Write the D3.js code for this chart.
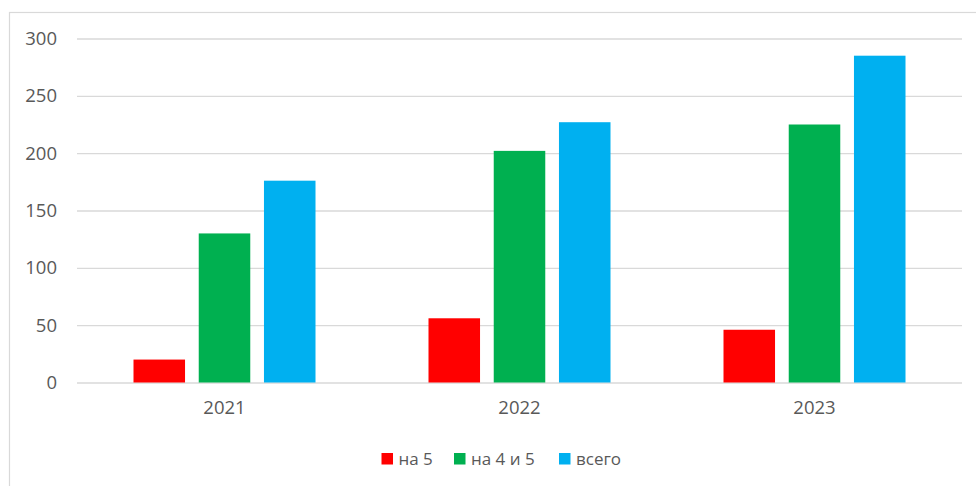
<!DOCTYPE html>
<html lang="ru">
	<head>
		<meta charset="utf-8">
		<title>Bar chart</title>
		<script type="text/javascript" src="https://cdn.jsdelivr.net/npm/d3@7"></script>
		<style type="text/css">
			body { margin: 0; background: #fff; }
			text { font-family: "Open Sans", sans-serif; fill: #595959; }
		</style>
	</head>
	<body>
		<script type="text/javascript">

			//Width and height
			var w = 976;
			var h = 486;

			//Data
			var years = ["2021", "2022", "2023"];
			var seriesNames = ["на 5", "на 4 и 5", "всего"];
			var na5 = [20, 56, 46];
			var na4i5 = [130, 202, 225];
			var vsego = [176, 227, 285];
			var yTicks = [0, 50, 100, 150, 200, 250, 300];

			var seriesValues = [na5, na4i5, vsego];
			var colors = d3.scaleOrdinal().domain(seriesNames).range(["#ff0000", "#00b050", "#00b0f0"]);

			var plot = { left: 77, right: 962, top: 38.5, bottom: 382.5 };

			var x = d3.scaleBand()
				.domain(years)
				.range([plot.left, plot.right]);

			//inner scale for the three bars in a group
			var xInner = d3.scaleBand()
				.domain(seriesNames)
				.range([0, 182])
				.paddingInner(0.21);

			var y = d3.scaleLinear()
				.domain([0, 300])
				.range([plot.bottom, plot.top]);

			var svg = d3.select("body")
				.append("svg")
				.attr("width", w)
				.attr("height", h);

			//outer chart border (cut off at right and bottom)
			svg.append("rect")
				.attr("x", 9.5)
				.attr("y", 12.5)
				.attr("width", 1000)
				.attr("height", 500)
				.style("fill", "none")
				.style("stroke", "#d9d9d9")
				.style("stroke-width", 1.2);

			//gridlines + y labels
			var yAxis = d3.axisLeft(y)
				.tickValues(yTicks)
				.tickSize(-(plot.right - plot.left))
				.tickPadding(20);

			var gy = svg.append("g")
				.attr("transform", "translate(" + plot.left + ",0)")
				.call(yAxis);
			gy.select(".domain").remove();
			gy.selectAll("line").style("stroke", "#d9d9d9").style("stroke-width", 1.3);
			gy.selectAll("text").style("font-size", "18.5px").attr("fill", "#595959");

			//bars
			var groups = svg.selectAll("g.year")
				.data(years)
				.enter()
				.append("g")
				.attr("class", "year")
				.attr("transform", function(d) {
					return "translate(" + (x(d) + x.bandwidth() / 2 - 91) + ",0)";
				});

			groups.selectAll("rect")
				.data(function(d, i) {
					return seriesNames.map(function(s, j) {
						return { name: s, value: seriesValues[j][i] };
					});
				})
				.enter()
				.append("rect")
				.attr("x", function(d) { return xInner(d.name); })
				.attr("width", xInner.bandwidth())
				.attr("y", function(d) { return y(d.value); })
				.attr("height", function(d) { return y(0) - y(d.value); })
				.style("fill", function(d) { return colors(d.name); });

			//x labels
			var xAxis = d3.axisBottom(x).tickSize(0).tickPadding(18);
			var gx = svg.append("g")
				.attr("transform", "translate(0," + plot.bottom + ")")
				.call(xAxis);
			gx.select(".domain").remove();
			gx.selectAll("text").style("font-size", "18.5px").attr("fill", "#595959");

			//legend
			var legendPos = [381.5, 454, 559];
			var legend = svg.selectAll("g.legend")
				.data(seriesNames)
				.enter()
				.append("g")
				.attr("class", "legend")
				.attr("transform", function(d, i) { return "translate(" + legendPos[i] + ",453)"; });

			legend.append("rect")
				.attr("width", 11.5)
				.attr("height", 11.5)
				.style("fill", function(d) { return colors(d); });

			legend.append("text")
				.attr("x", 17)
				.attr("y", 12)
				.style("font-size", "17px")
				.text(function(d) { return d; });

		</script>
	</body>
</html>
